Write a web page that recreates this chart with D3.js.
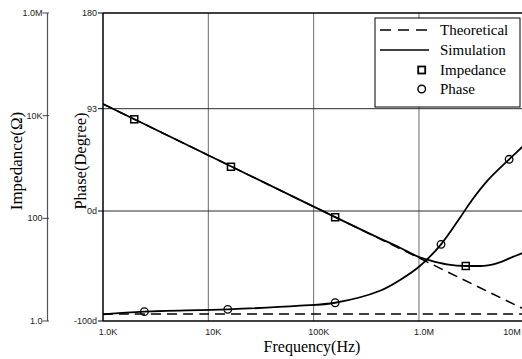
<!DOCTYPE html>
<html>
<head>
<meta charset="utf-8">
<script src="https://cdn.jsdelivr.net/npm/d3@7"></script>
<style>
  html, body { margin: 0; padding: 0; background: #fff; }
  svg { display: block; }
</style>
</head>
<body>
<svg id="chart" width="522" height="359"></svg>
<script>
// Frequency axis
const freqTicks = [1e3, 1e4, 1e5, 1e6, 1e7];
const freqTickLabels = ["1.0K", "10K", "100K", "1.0M", "10M"];

// Impedance axis (left, log)
const impTicks = [1, 100, 1e4, 1e6];
const impTickLabels = ["1.0", "100", "10K", "1.0M"];

// Phase axis (inner, linear)
const phaseTicks = [-100, 0, 93, 180];
const phaseTickLabels = ["-100d", "0d", "93", "180"];

// Theoretical response (ideal capacitor)
const theoFreq = [1e3, 1e4, 1e5, 1e6, 1e7];
const theoImpedance = [16900, 1690, 169, 16.9, 1.69];
const theoPhase = [-93.6, -93.6, -93.6, -93.6, -93.6];

// Simulated impedance
const simImpFreq = [1e3, 1e4, 1e5, 4.27e5, 6.61e5, 1.0e6, 1.27e6, 1.84e6, 2.78e6, 3.8e6, 5.48e6, 7.87e6, 9.47e6, 1e7];
const simImpedance = [16900, 1690, 169, 40.5, 26.8, 17.6, 15.2, 12.7, 11.8, 11.8, 13.3, 17.9, 20.8, 21.7];

// Simulated phase
const simPhaseFreq = [1e3, 2.47e3, 1.53e4, 7.42e4, 1.6e5, 4.27e5, 6.61e5, 1.02e6, 1.62e6, 2.46e6, 3.19e6, 4.41e6, 7.18e6, 9.4e6, 1e7];
const simPhase = [-93.9, -91.5, -89.4, -86.1, -83.4, -72.5, -62.7, -50, -30.3, -5.9, 10, 27, 47, 57.5, 60];

// Marker samples
const impMarkFreq = [1.98e3, 1.64e4, 1.6e5, 2.78e6];
const impMarkValue = [8490, 1010, 105, 11.8];
const phaseMarkFreq = [2.47e3, 1.53e4, 1.6e5, 1.62e6, 7.18e6];
const phaseMarkValue = [-91.5, -89.4, -83.4, -30.3, 47];

const legendLabels = ["Theoretical", "Simulation", "Impedance", "Phase"];

const svg = d3.select("#chart");
const serif = "'Liberation Serif', 'Times New Roman', Times, serif";
const sans = "'Liberation Sans', Arial, Helvetica, sans-serif";

const plot = { left: 103, right: 524.3, top: 13, bottom: 321 };

const x = d3.scaleLog().domain([1e3, 1e7]).range([plot.left, plot.right]);
const yPhase = d3.scaleLinear().domain([-100, 180]).range([plot.bottom, plot.top]);
const yImp = d3.scaleLog().domain([1, 1e6]).range([plot.bottom, plot.top]);

svg.append("defs").append("clipPath").attr("id", "plotClip")
  .append("rect")
  .attr("x", plot.left).attr("y", plot.top - 1)
  .attr("width", plot.right - plot.left).attr("height", plot.bottom - plot.top + 2);

// Grid lines
const grid = svg.append("g");
grid.selectAll("line.v").data(freqTicks.slice(1, -1)).join("line")
  .attr("x1", d => x(d)).attr("x2", d => x(d))
  .attr("y1", plot.top).attr("y2", plot.bottom)
  .attr("stroke", "#6a6a6a").attr("stroke-width", 1);
grid.selectAll("line.h").data([0, 93]).join("line")
  .attr("x1", plot.left).attr("x2", plot.right)
  .attr("y1", d => yPhase(d)).attr("y2", d => yPhase(d))
  .attr("stroke", "#2a2a2a").attr("stroke-width", 1);

// Plot frame: top and bottom
svg.append("line").attr("x1", plot.left).attr("x2", plot.right)
  .attr("y1", plot.top).attr("y2", plot.top)
  .attr("stroke", "#000").attr("stroke-width", 1.3);
svg.append("line").attr("x1", plot.left).attr("x2", plot.right)
  .attr("y1", plot.bottom).attr("y2", plot.bottom)
  .attr("stroke", "#000").attr("stroke-width", 1.6);

// Frequency tick labels (the last one is pulled inside the frame)
svg.append("g").selectAll("text").data(freqTicks).join("text")
  .attr("x", (d, i) => i === freqTicks.length - 1 ? x(d) - 3.5 : x(d) + 5)
  .attr("y", 335)
  .attr("text-anchor", (d, i) => i === freqTicks.length - 1 ? "end" : "middle")
  .attr("font-family", sans).attr("font-size", 9).attr("fill", "#222")
  .text((d, i) => freqTickLabels[i]);

svg.append("text")
  .attr("x", 312).attr("y", 352)
  .attr("text-anchor", "middle")
  .attr("font-family", serif).attr("font-size", 16)
  .text("Frequency(Hz)");

// Phase axis
const phaseAxisX = plot.left;
svg.append("line").attr("x1", phaseAxisX).attr("x2", phaseAxisX)
  .attr("y1", plot.top).attr("y2", plot.bottom)
  .attr("stroke", "#000").attr("stroke-width", 1.5);
const pTicks = svg.append("g");
pTicks.selectAll("line").data(phaseTicks).join("line")
  .attr("x1", phaseAxisX - 5).attr("x2", phaseAxisX)
  .attr("y1", d => yPhase(d)).attr("y2", d => yPhase(d))
  .attr("stroke", "#000").attr("stroke-width", 1);
pTicks.selectAll("text").data(phaseTicks).join("text")
  .attr("x", phaseAxisX - 6).attr("y", d => yPhase(d))
  .attr("dy", "0.35em").attr("text-anchor", "end")
  .attr("font-family", sans).attr("font-size", 9).attr("fill", "#222")
  .text((d, i) => phaseTickLabels[i]);
svg.append("text")
  .attr("transform", "translate(86,161) rotate(-90)")
  .attr("text-anchor", "middle")
  .attr("font-family", serif).attr("font-size", 16.5)
  .text("Phase(Degree)");

// Impedance axis
const impAxisX = 47.5;
svg.append("line").attr("x1", impAxisX).attr("x2", impAxisX)
  .attr("y1", plot.top).attr("y2", plot.bottom)
  .attr("stroke", "#555").attr("stroke-width", 1.2);
const iTicks = svg.append("g");
iTicks.selectAll("line").data(impTicks).join("line")
  .attr("x1", impAxisX - 5).attr("x2", impAxisX + 1.5)
  .attr("y1", d => yImp(d)).attr("y2", d => yImp(d))
  .attr("stroke", "#444").attr("stroke-width", 1);
iTicks.selectAll("text").data(impTicks).join("text")
  .attr("x", impAxisX - 5).attr("y", d => yImp(d))
  .attr("dy", "0.35em").attr("text-anchor", "end")
  .attr("font-family", sans).attr("font-size", 9).attr("fill", "#222")
  .text((d, i) => impTickLabels[i]);
svg.append("text")
  .attr("transform", "translate(22,161) rotate(-90)")
  .attr("text-anchor", "middle")
  .attr("font-family", serif).attr("font-size", 17)
  .text("Impedance(Ω)");

// Curves
const curves = svg.append("g").attr("clip-path", "url(#plotClip)");
const lineImp = d3.line().x(d => x(d[0])).y(d => yImp(d[1])).curve(d3.curveMonotoneX);
const linePhase = d3.line().x(d => x(d[0])).y(d => yPhase(d[1])).curve(d3.curveCatmullRom.alpha(0.5));

curves.append("path")
  .datum(d3.zip(theoFreq, theoImpedance))
  .attr("d", lineImp).attr("fill", "none")
  .attr("stroke", "#000").attr("stroke-width", 1.5).attr("stroke-dasharray", "10,6");
curves.append("path")
  .datum(d3.zip(theoFreq, theoPhase))
  .attr("d", linePhase).attr("fill", "none")
  .attr("stroke", "#000").attr("stroke-width", 1.5).attr("stroke-dasharray", "10,6");
curves.append("path")
  .datum(d3.zip(simImpFreq, simImpedance))
  .attr("d", lineImp).attr("fill", "none")
  .attr("stroke", "#000").attr("stroke-width", 1.8);
curves.append("path")
  .datum(d3.zip(simPhaseFreq, simPhase))
  .attr("d", linePhase).attr("fill", "none")
  .attr("stroke", "#000").attr("stroke-width", 1.8);

// Markers
const sq = 7;
curves.selectAll("rect.imp").data(d3.zip(impMarkFreq, impMarkValue)).join("rect")
  .attr("x", d => x(d[0]) - sq / 2).attr("y", d => yImp(d[1]) - sq / 2)
  .attr("width", sq).attr("height", sq)
  .attr("fill", "none").attr("stroke", "#000").attr("stroke-width", 1.5);
curves.selectAll("circle.ph").data(d3.zip(phaseMarkFreq, phaseMarkValue)).join("circle")
  .attr("cx", d => x(d[0])).attr("cy", d => yPhase(d[1])).attr("r", 3.8)
  .attr("fill", "none").attr("stroke", "#000").attr("stroke-width", 1.3);

// Legend
const lg = svg.append("g");
lg.append("rect").attr("x", 375).attr("y", 18).attr("width", 145).attr("height", 89)
  .attr("fill", "#fff").attr("stroke", "#000").attr("stroke-width", 1);
const rowY = [30, 50, 70, 89];
lg.append("line").attr("x1", 380).attr("x2", 429).attr("y1", rowY[0]).attr("y2", rowY[0])
  .attr("stroke", "#000").attr("stroke-width", 1.5).attr("stroke-dasharray", "11,7");
lg.append("line").attr("x1", 380).attr("x2", 429).attr("y1", rowY[1]).attr("y2", rowY[1])
  .attr("stroke", "#000").attr("stroke-width", 1.6);
lg.append("rect").attr("x", 421.7 - 3.5).attr("y", rowY[2] - 3.5).attr("width", 7).attr("height", 7)
  .attr("fill", "none").attr("stroke", "#000").attr("stroke-width", 1.8);
lg.append("circle").attr("cx", 421.7).attr("cy", rowY[3]).attr("r", 3.8)
  .attr("fill", "none").attr("stroke", "#000").attr("stroke-width", 1.4);
lg.selectAll("text").data(legendLabels).join("text")
  .attr("x", 440).attr("y", (d, i) => rowY[i]).attr("dy", "0.35em")
  .attr("font-family", serif).attr("font-size", 15)
  .text(d => d);
</script>
</body>
</html>
